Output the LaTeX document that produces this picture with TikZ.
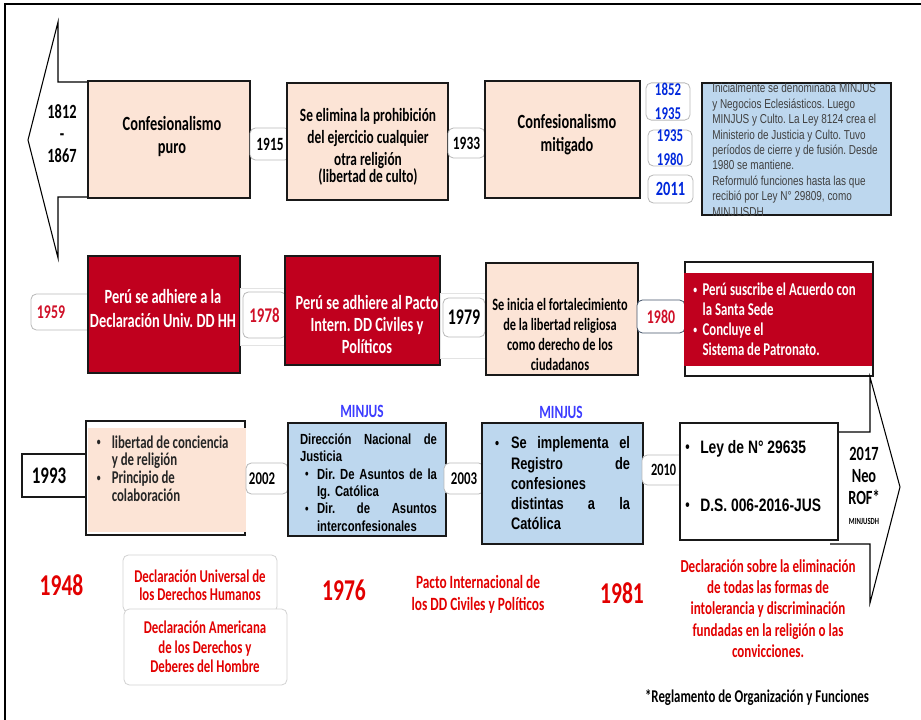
\documentclass[tikz,border=0pt]{standalone}
\usepackage{fontspec}
\usepackage{graphicx}
\setmainfont{Carlito}[FakeStretch=0.713]
\newfontfamily\arialn{Liberation Sans}[FakeStretch=0.77]
\frenchspacing

\definecolor{peach}{RGB}{252,228,214}
\definecolor{crim}{RGB}{192,0,30}
\definecolor{skyb}{RGB}{189,215,238}
\definecolor{yred}{RGB}{208,16,40}
\definecolor{bred}{RGB}{226,0,0}
\definecolor{yblue}{RGB}{0,40,220}
\definecolor{mblue}{RGB}{60,60,255}
\definecolor{dgray}{RGB}{64,64,64}
\definecolor{slate}{RGB}{68,84,106}

\newcommand{\bul}[1]{\makebox[#1][l]{\raisebox{0.12em}{\scalebox{0.6}{\textbullet}}}}
\newcommand{\abul}[1]{\makebox[#1][l]{\raisebox{0.05em}{\scalebox{0.9}{\textbullet}}}}

\tikzset{
	fs/.style 2 args = {font=\bfseries\fontsize{\fpeval{1.08*#1}}{#2}\selectfont},
	an/.style 2 args = {font=\arialn\bfseries\fontsize{#1}{#2}\selectfont},
	wh/.style 2 args = {minimum width=#1*0.75pt, minimum height=#2*0.75pt}
}

\begin{document}
\begin{tikzpicture}[x=0.75pt, y=-0.75pt,
every node/.style = {inner sep=0pt},
          box/.style = {draw=black!90, line width=0.9pt},
         pbox/.style = {box, fill=peach},
         rbox/.style = {box, fill=crim},
       skybox/.style = {box, fill=skyb},
           yr/.style = {draw=gray!55, fill=white, rounded corners=4pt, line width=0.6pt},
         halo/.style = {draw=gray!22, line width=0.6pt},
          txt/.style = {align=center},
     bigarrow/.style = {draw=black, fill=white, line width=0.8pt}
                    ]
\useasboundingbox (0,0) rectangle (921,720);
\draw[line width=1.3pt] (5,722) -- (5,4) -- (923,4);

% fila 1
\draw[bigarrow] (100,82) -- (58,82) -- (58,22) -- (28,140) -- (58,258) -- (58,197) -- (100,197);
\node[txt, fs={14}{16.5}] (desde) at (62,134) {1812\\-\\1867};

\node[pbox, wh={162}{117}] (puro) at (169,139.5) {};
\node[txt, fs={14}{17.3}] (puro-t) at (172,136.5) {Confesionalismo\\puro};
\node[yr, wh={40}{32}, fs={13}{15}] (y1915) at (270,144) {1915};
\node[pbox, wh={161}{117}] (culto) at (367.5,141.5) {};
\node[txt, fs={13}{16.5}] (culto-t) at (368,147) {Se elimina la prohibición\\del ejercicio cualquier\\otra religión\\[-3.5pt](libertad de culto)};
\node[yr, wh={37}{30}, fs={13}{15}] (y1933) at (466.5,143) {1933};
\node[pbox, wh={155}{117}] (mitig) at (562.5,139.5) {};
\node[txt, fs={14}{17.3}] (mitig-t) at (567,135) {Confesionalismo\\mitigado};

\node[yr, txt, wh={44}{37}, text=yblue, fs={12.5}{18.5}] (p1852) at (668,101.5) {1852\\1935};
\node[yr, txt, wh={44}{36}, text=yblue, fs={12.5}{18}] (p1935) at (670,148) {1935\\1980};
\node[yr, wh={45}{28}, text=yblue, fs={14}{16}] (p2011) at (670.5,189) {2011};
\node[skybox, wh={189}{132}] (minjus) at (796.5,149) {};
\begin{scope}
\clip (minjus.north west) rectangle (minjus.south east);
\node[anchor=north west, align=left, text=dgray, font=\arialn\fontsize{9.7}{11.6}\selectfont] (minjus-t) at (712,83)
  {Inicialmente se denominaba MINJUS\\
   y Negocios Eclesiásticos. Luego\\
   MINJUS y Culto. La Ley 8124 crea el\\
   Ministerio de Justicia y Culto. Tuvo\\
   períodos de cierre y de fusión. Desde\\
   1980 se mantiene.\\
   Reformuló funciones hasta las que\\
   recibió por Ley N° 29809, como\\
   MINJUSDH};
\end{scope}

% fila 2
\node[yr, wh={64}{36}, text=yred, fs={13.5}{15}] (y1959) at (63,312) {1959\hspace*{18pt}};
\node[rbox, wh={152}{117}] (dudh) at (164,314.5) {};
\node[txt, text=white, fs={14}{17.3}] (dudh-t) at (163,308.5) {Perú se adhiere a la\\Declaración Univ. DD HH};
\draw[halo] (240,288) rectangle (287,345);
\node[yr, wh={43}{46}, text=yred, fs={14.5}{16}] (y1978) at (264.5,315) {1978};
\node[rbox, wh={155}{109}] (pidcp) at (362.5,310.5) {};
\node[txt, text=white, fs={14}{16.5}] (pidcp-t) at (367,324.5) {Perú se adhiere al Pacto\\Intern. DD Civiles y\\Políticos};
\draw[halo] (440,293) rectangle (486,358);
\node[yr, wh={42}{39}, fs={15.5}{17}] (y1979) at (464,317.5) {1979};
\node[pbox, wh={152}{112}] (fort) at (562,319) {};
\node[txt, fs={12}{15}] (fort-t) at (560,335) {Se inicia el fortalecimiento\\de la libertad religiosa\\como derecho de los\\ciudadanos};
\node[yr, draw=slate, wh={48}{33}, text=yred, fs={13.5}{15}] (y1980) at (661,316.5) {1980};
\node[box, fill=white, wh={188}{114}] (santa) at (779,319) {};
\node[fill=crim, wh={188}{93}] (santa-r) at (778,319.5) {};
\node[anchor=west, align=left, text=white, fs={12.5}{15}] (santa-t) at (693,319.5)
  {\bul{7pt}Perú suscribe el Acuerdo con\\
   \hspace*{7pt}la Santa Sede\\
   \bul{7pt}Concluye el\\
   \hspace*{7pt}Sistema de Patronato.};

% fila 3
\draw[bigarrow] (830,432) -- (870,432) -- (870,377) -- (900,487) -- (870,603) -- (870,544) -- (830,544);
\node[txt, fs={14}{16.5}] (rof) at (864,486) {2017\\Neo\\ROF*\\[-2pt]{\fontsize{7}{8}\selectfont MINJUSDH}};

\node[box, fill=white, wh={66}{43}, fs={16.5}{18}] (y1993) at (55,475.5) {1993\hspace*{9pt}};
\node[box, fill=white, wh={159}{114}] (colab) at (165.5,478) {};
\node[fill=peach, wh={158}{104}] (colab-f) at (167,479.5) {};
\node[anchor=west, align=left, text=black!85, fs={12.5}{13.3}] (colab-t) at (96.5,468.5)
  {\bul{11.25pt}libertad de conciencia\\
   \hspace*{11.25pt}y de religión\\
   \bul{11.25pt}Principio de\\
   \hspace*{11.25pt}colaboración};
\node[yr, wh={42}{31}, fs={12.5}{14}] (y2002) at (267,478.5) {2002\hspace*{7.5pt}};
\node[text=mblue, fs={13}{15}] (minjus1) at (362,411) {MINJUS};
\node[skybox, wh={158}{113}] (dnj) at (367,479.5) {};
\node[align=left, text width=102.75pt, an={11}{13}] (dnj-t) at (368.5,482.5)
  {Dirección\hfill Nacional\hfill de\\
   Justicia\\
   \hspace*{3.75pt}\abul{9pt}Dir.\hfill De\hfill Asuntos\hfill de\hfill la\\
   \hspace*{12.75pt}Ig. Católica\\
   \hspace*{3.75pt}\abul{9pt}Dir.\hfill de\hfill Asuntos\\
   \hspace*{12.75pt}interconfesionales};
\node[yr, wh={40}{31}, fs={12.5}{14}] (y2003) at (464,478.5) {2003};
\node[text=mblue, fs={13}{15}] (minjus2) at (561,412) {MINJUS};
\node[skybox, wh={161}{121}] (reg) at (562.5,483.5) {};
\node[align=left, text width=101.25pt, an={12.5}{15.2}] (reg-t) at (562.5,483.5)
  {\abul{12pt}Se\hfill implementa\hfill el\\
   \hspace*{12pt}Registro\hfill de\\
   \hspace*{12pt}confesiones\\
   \hspace*{12pt}distintas\hfill a\hfill la\\
   \hspace*{12pt}Católica};
\node[yr, wh={43}{30}, fs={12}{14}] (y2010) at (663.5,470) {2010};
\node[box, fill=white, wh={158}{117}] (ley) at (759,481.5) {};
\node[anchor=west, align=left, an={13.5}{16}] (ley-t) at (685,476)
  {\abul{11.25pt}Ley de N° 29635\\[27pt]
   \abul{11.25pt}D.S. 006-2016-JUS};

% declaraciones
\node[text=bred, fs={21}{24}] (y1948) at (61.5,585) {1948};
\node[yr, draw=gray!35, wh={154}{57}] (dudh2) at (200,583.5) {};
\node[txt, text=bred, fs={12.5}{13.5}] (dudh2-t) at (200,585) {Declaración Universal de\\los Derechos Humanos};
\node[yr, draw=gray!35, wh={163}{76}] (dadh) at (205.5,647) {};
\node[txt, text=bred, fs={12.5}{14.6}] (dadh-t) at (205,647) {Declaración Americana\\de los Derechos y\\Deberes del Hombre};
\node[text=bred, fs={21}{24}] (y1976) at (344,590) {1976};
\node[txt, text=bred, fs={13}{16.5}] (pacto) at (478,594) {Pacto Internacional de\\los DD Civiles y Políticos};
\node[text=bred, fs={21}{24}] (y1981) at (622,593) {1981};
\node[txt, text=bred, fs={12.7}{15.9}] (elim) at (768,608.5) {Declaración sobre la eliminación\\de todas las formas de\\intolerancia y discriminación\\fundadas en la religión o las\\convicciones.};
\node[fs={12.5}{14}] (nota) at (757,698) {*Reglamento de Organización y Funciones};
\end{tikzpicture}
\end{document}
